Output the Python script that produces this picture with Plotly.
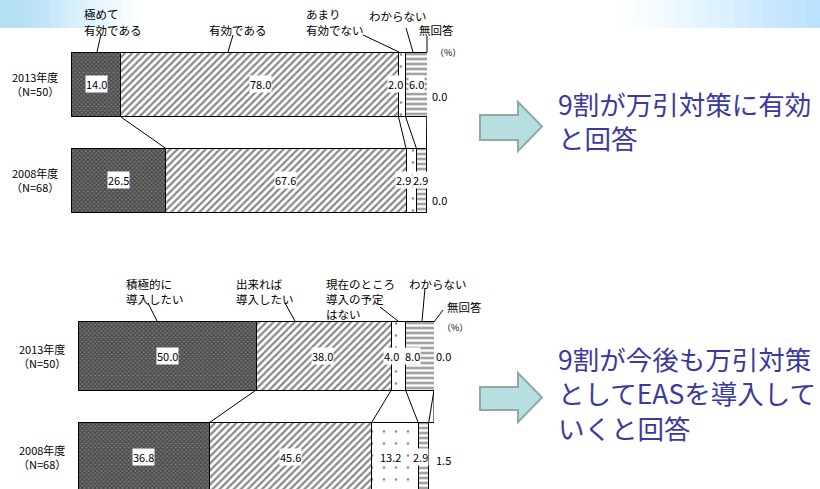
import plotly.graph_objects as go

W, H = 820, 489

# ── Data ─────────────────────────────────────────────────────────────────────
years_top = ["2013年度<br>（N=50）", "2008年度<br>（N=68）"]
cats_top = ["極めて有効である", "有効である", "あまり有効でない", "わからない", "無回答"]
vals_top = {
    "極めて有効である": [14.0, 26.5],
    "有効である": [78.0, 67.6],
    "あまり有効でない": [2.0, 2.9],
    "わからない": [6.0, 2.9],
    "無回答": [0.0, 0.0],
}

years_bot = ["2013年度<br>（N=50）", "2008年度<br>（N=68）"]
cats_bot = ["積極的に導入したい", "出来れば導入したい", "現在のところ導入の予定はない", "わからない", "無回答"]
vals_bot = {
    "積極的に導入したい": [50.0, 36.8],
    "出来れば導入したい": [38.0, 45.6],
    "現在のところ導入の予定はない": [4.0, 13.2],
    "わからない": [8.0, 2.9],
    "無回答": [0.0, 1.5],
}

msg_top = "9割が万引対策に有効<br>と回答"
msg_bot = "9割が今後も万引対策<br>としてEASを導入して<br>いくと回答"

# ── Styles ───────────────────────────────────────────────────────────────────
_FONT = "Noto Sans CJK JP"
_MSG = "#3a3a9e"
BAR_W = 0.675

PATTERNS = [
    dict(shape="x", size=3, solidity=0.6, fgcolor="#111111", bgcolor="#7a7a7a"),
    dict(shape="/", size=5, solidity=0.45, fgcolor="#111111", bgcolor="#ffffff"),
    dict(shape=".", size=12, solidity=0.04, fgcolor="#111111", bgcolor="#ffffff"),
    dict(shape="-", size=5, solidity=0.42, fgcolor="#111111", bgcolor="#ffffff"),
    dict(shape="", fgcolor="#ffffff", bgcolor="#ffffff"),
]

# value-label nudges (px) per [year][segment]
shift_top = [[(1, 0), (1, 0), (-7, 0), (0, 0), (12, -12)],
             [(0, 0), (0, 0), (-8, 0), (-1, 0), (13, -20)]]
shift_bot = [[(0, 0), (-1, 0), (-7, 0), (-7, 0), (9, 0)],
             [(0, 0), (0, 0), (-4, 0), (-3, 0), (12, -3)]]


def px(x):
    return x / W


def py(y):
    return 1 - y / H


fig = go.Figure()


def add_chart(years, cats, vals, xa, ya, shifts, label_x):
    for i, c in enumerate(cats):
        fig.add_trace(go.Bar(
            y=[0, 1], x=vals[c], orientation="h", width=BAR_W,
            marker=dict(color="#ffffff", line=dict(color="#000000", width=1),
                        pattern=PATTERNS[i]),
            xaxis=xa, yaxis=ya, showlegend=False, hoverinfo="skip",
        ))
    # value labels
    for j in range(len(years)):
        cum = 0.0
        for i, c in enumerate(cats):
            v = vals[c][j]
            dx, dy = shifts[j][i]
            fig.add_annotation(
                x=cum + v / 2, y=j, xref=xa, yref=ya, text=f"{v:.1f}",
                showarrow=False, bgcolor="#ffffff", borderpad=0,
                xanchor="center", xshift=dx, yshift=dy,
                font=dict(size=11, color="#000"),
            )
            cum += v
        fig.add_annotation(
            x=label_x, y=j, xref="paper", yref=ya, text=years[j],
            showarrow=False, align="center", xanchor="center",
            font=dict(size=11, color="#000"),
        )
    # connector lines between the two bars
    b0, b1, s0, s1 = [], [], 0.0, 0.0
    for c in cats:
        s0 += vals[c][0]
        s1 += vals[c][1]
        b0.append(s0)
        b1.append(s1)
    for a, b in zip(b0, b1):
        fig.add_shape(type="line", xref=xa, yref=ya, x0=a, y0=BAR_W / 2,
                      x1=b, y1=1 - BAR_W / 2, line=dict(color="#000", width=1))


add_chart(years_top, cats_top, vals_top, "x", "y", shift_top, px(35))
add_chart(years_bot, cats_bot, vals_bot, "x2", "y2", shift_bot, px(42))

# ── category labels with leader lines (px positions) ─────────────────────────
# top chart: looser line spacing -> one annotation per line
cat_labels_top = [
    (["極めて", "有効である"], 83, 14),
    (["有効である"], 208, 30),
    (["あまり", "有効でない"], 305, 14),
    (["わからない"], 368, 16),
    (["無回答"], 418, 30),
]
for lines, x, y in cat_labels_top:
    for k, t in enumerate(lines):
        fig.add_annotation(x=px(x), y=py(y + k * 16), xref="paper", yref="paper",
                           text=t, showarrow=False, xanchor="left", yanchor="middle",
                           borderpad=0, font=dict(size=11.5, color="#000"))

# bottom chart: tight line spacing -> multi-line annotations
cat_labels_bot = [
    ("積極的に<br>導入したい", 125, 275),
    ("出来れば<br>導入したい", 235, 275),
    ("現在のところ<br>導入の予定<br>はない", 325, 275),
    ("わからない", 408, 275),
    ("無回答", 446, 298),
]
for t, x, y in cat_labels_bot:
    fig.add_annotation(x=px(x), y=py(y), xref="paper", yref="paper", text=t,
                       showarrow=False, xanchor="left", yanchor="top", align="left",
                       borderpad=0, font=dict(size=11.5, color="#000"))

for x, y in [(433, 52), (440, 327)]:
    fig.add_annotation(x=px(x), y=py(y), xref="paper", yref="paper", text="（%）",
                       showarrow=False, xanchor="left", yanchor="middle",
                       font=dict(size=9, color="#000"))

leaders = [
    (101, 34, 97, 52), (233, 35, 228, 52), (363, 35, 399, 52),
    (406, 28, 413, 52), (427, 36, 427, 52),
    (148, 303, 157, 321), (285, 303, 295, 321), (380, 307, 398, 321),
    (425, 288, 422, 321), (443, 310, 434, 322),
]
for x0, y0, x1, y1 in leaders:
    fig.add_shape(type="line", xref="paper", yref="paper", x0=px(x0), y0=py(y0),
                  x1=px(x1), y1=py(y1), line=dict(color="#000", width=1))


# ── arrows and messages ──────────────────────────────────────────────────────
def arrow(x0, x1, x2, yb0, yb1, yh0, yh1):
    ym = (yh0 + yh1) / 2
    pts = [(x0, yb0), (x1, yb0), (x1, yh0), (x2, ym), (x1, yh1), (x1, yb1), (x0, yb1)]
    path = "M " + " L ".join(f"{px(a):.5f},{py(b):.5f}" for a, b in pts) + " Z"
    fig.add_shape(type="path", path=path, xref="paper", yref="paper",
                  fillcolor="#b7dfe1", line=dict(color="#8fa9a3", width=2))


arrow(480, 518, 542, 115, 140, 102, 151)
arrow(480, 518, 542, 387, 410, 373, 422)

fig.add_annotation(x=px(556), y=py(121), xref="paper", yref="paper", text=msg_top,
                   showarrow=False, xanchor="left", yanchor="middle", align="left",
                   font=dict(size=26.5, color=_MSG))
fig.add_annotation(x=px(556), y=py(393), xref="paper", yref="paper", text=msg_bot,
                   showarrow=False, xanchor="left", yanchor="middle", align="left",
                   font=dict(size=26.5, color=_MSG))

# ── faint blue header glow ───────────────────────────────────────────────────
N = 14
for k in range(N):
    a = 0.07 * (1 - k / N) + 0.025
    fig.add_shape(type="rect", xref="paper", yref="paper", layer="below",
                  x0=0, x1=px(15 + 125 * (k + 1) / N), y0=py(28), y1=1,
                  fillcolor=f"rgba(140,210,245,{a:.3f})", line=dict(width=0))
    fig.add_shape(type="rect", xref="paper", yref="paper", layer="below",
                  x0=px(820 - 200 * (k + 1) / N), x1=1, y0=py(28), y1=1,
                  fillcolor=f"rgba(150,215,250,{a:.3f})", line=dict(width=0))

fig.update_layout(
    width=W, height=H,
    margin=dict(l=0, r=0, t=0, b=0),
    paper_bgcolor="#ffffff", plot_bgcolor="rgba(0,0,0,0)",
    font=dict(family=_FONT, color="#000"),
    barmode="stack", showlegend=False,
    xaxis=dict(domain=[px(71), px(427)], range=[0, 100], visible=False,
               anchor="y", fixedrange=True),
    yaxis=dict(domain=[py(228.5), py(36.5)], range=[1.5, -0.5], visible=False,
               anchor="x", fixedrange=True),
    xaxis2=dict(domain=[px(78), px(434)], range=[0, 100], visible=False,
                anchor="y2", fixedrange=True),
    yaxis2=dict(domain=[0, py(305.5)], range=[1 + 32 / 101, -0.5], visible=False,
                anchor="x2", fixedrange=True),
)

fig.write_html("out.html", config={"displayModeBar": False},
               post_script="document.body.style.margin='0';")
